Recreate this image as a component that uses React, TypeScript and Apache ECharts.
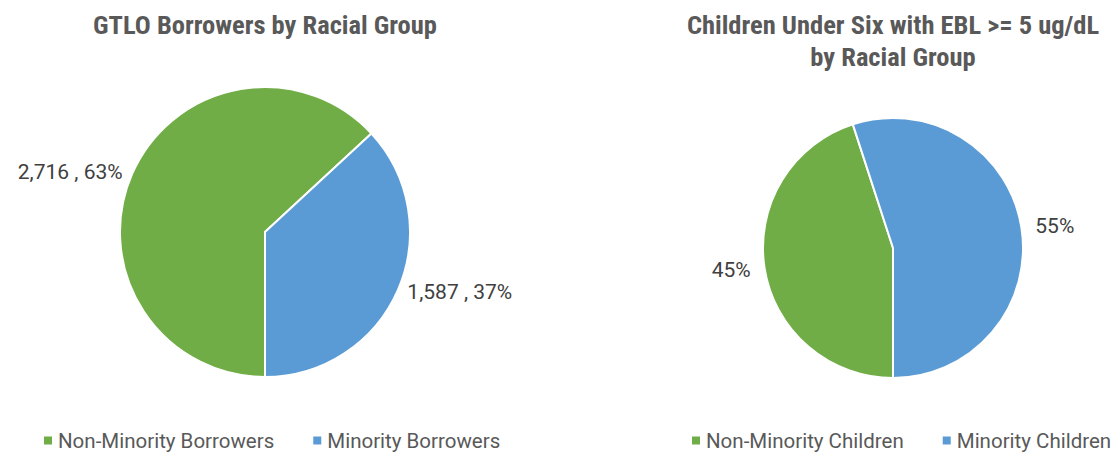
import React, { useEffect, useRef } from "react";
import * as echarts from "echarts";

const leftTitle = "GTLO Borrowers by Racial Group";
const rightTitle = "Children Under Six with EBL >= 5 ug/dL\nby Racial Group";
const leftNames = ["Non-Minority Borrowers", "Minority Borrowers"];
const leftValues = [2716, 1587];
const rightNames = ["Non-Minority Children", "Minority Children"];
const rightValues = [45, 55];
const colors = ["#70AD47", "#5B9BD5"];

const TITLE_FONT = "'Liberation Sans Narrow', 'Roboto Condensed', 'Arial Narrow', Roboto, sans-serif";
const BODY_FONT = "Roboto, 'Noto Sans', sans-serif";

export default function App() {
  const ref = useRef<HTMLDivElement>(null);
  useEffect(() => {
    if (!ref.current) return;
    const chart = echarts.init(ref.current, undefined, { renderer: "svg" });
    const labelStyle = {
      show: true,
      position: "outside",
      color: "#404040",
      fontSize: 21,
      fontFamily: BODY_FONT,
      distanceToLabelLine: 4,
    };
    const legendText = { fontSize: 20.5, color: "#595959", fontFamily: BODY_FONT };
    const titleText = { fontSize: 26.5, fontWeight: "bold", color: "#595959", fontFamily: TITLE_FONT, lineHeight: 32 };
    chart.setOption({
      animation: false,
      color: colors,
      textStyle: { fontFamily: BODY_FONT },
      title: [
        { text: leftTitle, left: 265, top: 8, padding: 0, textAlign: "center", textStyle: titleText },
        { text: rightTitle, left: 893, top: 8, padding: 0, textAlign: "center", textStyle: titleText },
      ],
      legend: [
        {
          data: leftNames,
          left: 42,
          top: 430,
          padding: 0,
          icon: "rect",
          itemWidth: 10,
          itemHeight: 10,
          itemGap: 37,
          textStyle: legendText,
        },
        {
          data: rightNames,
          left: 690,
          top: 430,
          padding: 0,
          icon: "rect",
          itemWidth: 10,
          itemHeight: 10,
          itemGap: 37,
          textStyle: legendText,
        },
      ],
      series: [
        {
          type: "pie",
          center: [265, 232],
          radius: 145,
          startAngle: -90,
          clockwise: true,
          data: leftNames.map((n, i) => ({ name: n, value: leftValues[i] })),
          itemStyle: { borderColor: "#fff", borderWidth: 2 },
          label: {
            ...labelStyle,
            formatter: (p: any) => `${p.value.toLocaleString("en-US")} , ${Math.round(p.percent)}%`,
          },
          labelLine: { show: false, length: 6, length2: 0 },
          emphasis: { disabled: true },
        },
        {
          type: "pie",
          center: [893, 248],
          radius: 130,
          startAngle: -90,
          clockwise: true,
          data: rightNames.map((n, i) => ({ name: n, value: rightValues[i] })),
          itemStyle: { borderColor: "#fff", borderWidth: 2 },
          label: {
            ...labelStyle,
            formatter: (p: any) => `${Math.round(p.percent)}%`,
          },
          labelLine: { show: false, length: 10, length2: 0 },
          emphasis: { disabled: true },
        },
      ],
    });
    return () => chart.dispose();
  }, []);
  return (
    <div
      ref={ref}
      style={{ position: "fixed", left: 0, top: 0, width: 1112, height: 452, background: "#fff" }}
    />
  );
}
